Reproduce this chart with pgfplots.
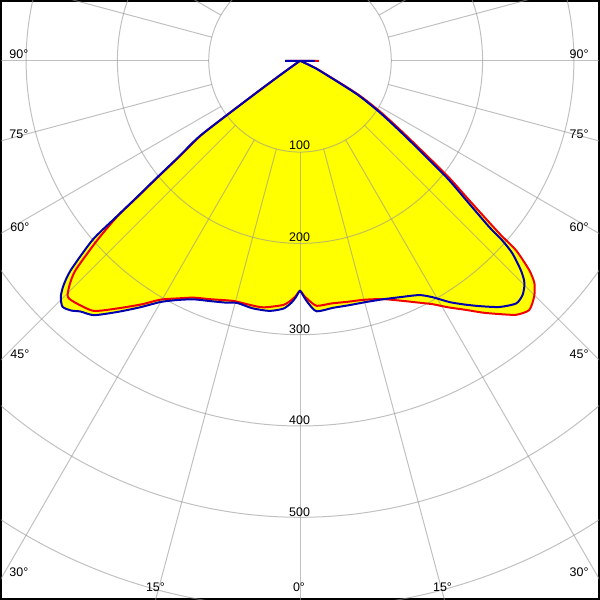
\documentclass[border=0pt]{standalone}
\usepackage{pgfplots}
\pgfplotsset{compat=1.18}
\usepackage{pgfplotstable}
\usepackage{fontspec}
\setmainfont{Liberation Sans}
\definecolor{cblue}{RGB}{0,0,176}
\definecolor{cred}{RGB}{240,0,0}
\definecolor{cyel}{RGB}{255,255,0}
\definecolor{gridc}{RGB}{150,150,150}
% signed gamma (left negative), intensity (cd)
\pgfplotstableread{
g I
-90 16.4
-85 0.5
-60 0.5
-55 5
-54.2 30
-53.7 66
-53.1 136
-51.6 170
-50.7 205
-50.06 235
-49.6 268
-49.2 300
-47.6 340
-46.5 357
-45.4 368
-44 374.5
-42.5 371
-41.2 365
-39 358.5
-36 340
-33 322
-30 305
-27 294
-24 286
-20.5 281
-17 277
-14.5 274
-11 276
-7 276
-3.8 272
-2 265
-1 259
0 252
1 259
2 266
3.8 275
7.6 273
11 273
15.4 274
19.1 276.5
22.85 281
27 288
29.3 297
31.8 311
34 322
36.2 333
39 347
41.7 356
43.5 354
44.8 348.7
45.6 343.5
46.55 333
47.8 314
48.4 296
48.7 276
50 238
51.5 205
54.3 143
57 105
59.6 72
63.4 24
65 14
70 1
75 0.5
85 0.5
90 16.4
}\bluedata
\pgfplotstableread{
g I
-90 16
-85 0.5
-60 0.5
-55 5
-54.2 29
-53.7 64
-53.1 133
-51.6 167
-50.7 201
-50.06 231
-49.6 262
-48.5 296.5
-47 336
-45.8 352
-44.5 362.8
-42.5 361
-39.5 355
-36.4 337
-33 318
-30.3 303
-27 292
-24.2 284.4
-20.6 279
-15.5 273
-11.5 273
-8.4 273
-3.9 268
-2 262
-1 257.5
0 252
1 257.5
2 262
3.9 269
7.5 268
11 269
15 271
19 276
22.6 284.5
25.5 293
28.6 303.7
31 315
33.7 328
36 341
38.2 353
40.4 365.3
42.6 370.9
44.8 364
46.5 354
47.6 340
48.75 314.6
49.1 288.9
50.5 240.4
52 205
54.8 143
57.5 105
60 72
63.8 24
65.5 14
70 1
75 0.5
85 0.5
90 20.7
}\reddata
\begin{document}
\begin{tikzpicture}
\begin{axis}[
  width=600pt, height=600pt, scale only axis,
  xmin=-327.5, xmax=327.5, ymin=-589.5, ymax=65.5,
  xtick=\empty, ytick=\empty,
  axis line style={line width=2pt, black},
  clip=true,
  data cs=polar,
]
% yellow areas
\addplot[draw=none, fill=cyel, smooth, tension=0.4] table[x expr=\thisrow{g}-90, y=I] {\reddata};
\addplot[draw=none, fill=cyel, smooth, tension=0.4] table[x expr=\thisrow{g}-90, y=I] {\bluedata};
% polar grid
\pgfplotsinvokeforeach{100,200,300,400,500,600,700}{
  \draw[gridc, opacity=0.6, line width=1pt] (axis cs:0,0) circle[radius=#1];
}
\pgfplotsinvokeforeach{0,15,...,345}{
  \draw[gridc, opacity=0.6, line width=1pt] ({100*cos(#1)},{100*sin(#1)}) -- ({800*cos(#1)},{800*sin(#1)});
}
% curves
\addplot[cred, line width=2pt, smooth, tension=0.4] table[x expr=\thisrow{g}-90, y=I] {\reddata};
\addplot[cblue, line width=2pt, smooth, tension=0.4] table[x expr=\thisrow{g}-90, y=I] {\bluedata};
% labels
\begin{scope}[every node/.style={inner sep=0pt, font=\fontsize{12.5}{13}\selectfont}]
\node at (axis cs:-307.9,7.6) {90°};
\node at (axis cs:305.7,7.6) {90°};
\node at (axis cs:-307.9,-80.8) {75°};
\node at (axis cs:305.7,-80.8) {75°};
\node at (axis cs:-306.8,-182.3) {60°};
\node at (axis cs:305.7,-182.3) {60°};
\node at (axis cs:-306.8,-321) {45°};
\node at (axis cs:305.7,-321) {45°};
\node at (axis cs:-307.9,-560) {30°};
\node at (axis cs:305.7,-560) {30°};
\node at (axis cs:-158.3,-576.4) {15°};
\node at (axis cs:-1.1,-576.4) {0°};
\node at (axis cs:156.1,-576.4) {15°};
\node at (axis cs:-0.5,-92.8) {100};
\node at (axis cs:-0.5,-193.2) {200};
\node at (axis cs:-0.5,-294.2) {300};
\node at (axis cs:-0.5,-394.1) {400};
\node at (axis cs:-0.5,-494.5) {500};
\end{scope}
\end{axis}
\end{tikzpicture}
\end{document}
